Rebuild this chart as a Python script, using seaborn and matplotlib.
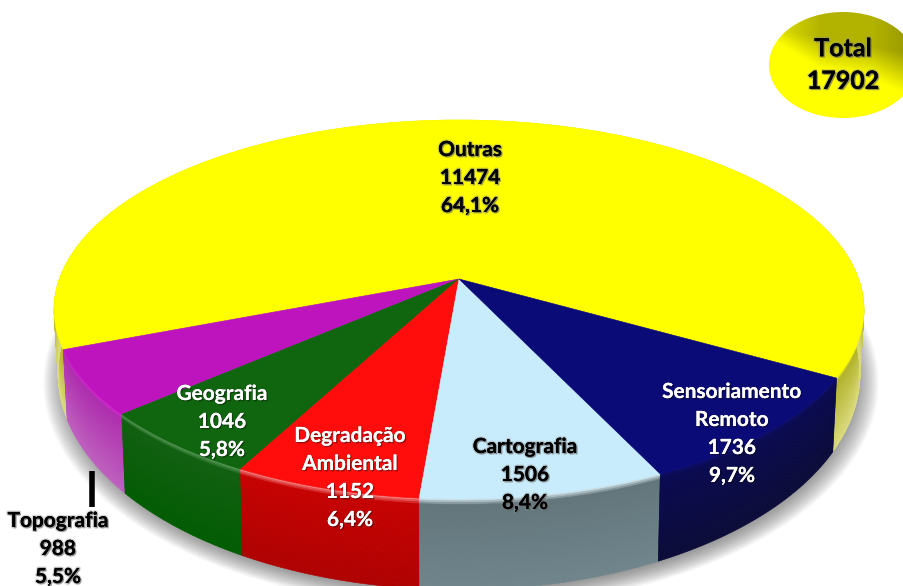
import numpy as np
import matplotlib
matplotlib.use("Agg")
import matplotlib.pyplot as plt
import matplotlib.patheffects as pe
from matplotlib.patches import Ellipse
import seaborn as sns

categories = ["Outras", "Topografia", "Geografia", "Degradação\nAmbiental", "Cartografia", "Sensoriamento\nRemoto"]
values = [11474, 988, 1046, 1152, 1506, 1736]
percents = ["64,1%", "5,5%", "5,8%", "6,4%", "8,4%", "9,7%"]
total = 17902

top_colors = ["#FFFF00", "#BE14BE", "#0F660F", "#FF0D0D", "#C8ECFB", "#0B0B78"]
# side wall colours: highlight at the edge, just under it, bottom of the wall
side_colors = [
    ["#F0F020", "#B4B42C", "#DCDC80"],
    ["#E020E0", "#B02CB0", "#C060C0"],
    ["#5FA05F", "#0F5F0F", "#005C00"],
    ["#FF9090", "#C80000", "#B00000"],
    ["#DDEEF4", "#62767C", "#70868C"],
    ["#0C0C68", "#080850", "#0A0A38"],
]
text_colors = ["black", "black", "white", "white", "black", "white"]
label_pos = [(470, 178), (58, 549), (222, 422), (350, 478), (525, 475), (732, 434)]

# view of the pie disc, in pixels
cx, cy = 459, 279
a, b, c = 399.7, 184.6, 0.161


def project(theta, u=0.0, k=1.0):
    # u: 0 on the top rim, 1 on the bottom rim of the wall
    x = k * np.cos(np.radians(theta))
    y = k * np.sin(np.radians(theta))
    px = a * x / (1 + c * y)
    py = -b * y / (1 + c * y)
    return cx + px * (1 - 0.01 * u), cy + py * (1 + 0.14 * u) + 60 * u


sns.set_theme(style="white")
plt.rcParams["font.family"] = ["Lato", "DejaVu Sans"]
plt.rcParams["font.weight"] = "bold"

fig = plt.figure(figsize=(9.04, 5.86), dpi=100)
ax = fig.add_axes([0, 0, 1, 1])

wedges, _ = ax.pie(values, startangle=-29.6, counterclock=True)
angles = [(w.theta1, w.theta2) for w in wedges]
for w in wedges:
    w.remove()
ax.set_aspect("auto")
ax.set_xlim(0, 904)
ax.set_ylim(586, 0)
ax.axis("off")

# soft shadow under the pie
t = np.linspace(0, 360, 361)
for k in np.linspace(1.04, 0.98, 16):
    sx, sy = project(t, 1.0, k)
    ax.fill(sx + 2, sy + 6, color="#505050", alpha=0.05, lw=0, zorder=1)

# side wall, stacked in thin bands
bands = 50
edges = np.linspace(0, 1, bands + 1)
for (t1, t2), stops in zip(angles, side_colors):
    arc = np.linspace(t1, t2, max(int(t2 - t1) * 2, 20))
    rgb = np.array([matplotlib.colors.to_rgb(s) for s in stops])
    for i in range(bands):
        u0, u1 = edges[i], edges[i + 1]
        um = (u0 + u1) / 2
        if um < 0.07:
            col = rgb[0] + (rgb[1] - rgb[0]) * um / 0.07
        else:
            col = rgb[1] + (rgb[2] - rgb[1]) * (um - 0.07) / 0.93
        x0, y0 = project(arc, u0)
        x1, y1 = project(arc[::-1], u1)
        ax.fill(np.r_[x0, x1], np.r_[y0, y1], color=col, lw=0.4, zorder=2)

# top face
for (t1, t2), col in zip(angles, sns.color_palette(top_colors)):
    arc = np.linspace(t1, t2, max(int(t2 - t1) * 2, 20))
    x, y = project(arc)
    ax.fill(np.r_[cx, x], np.r_[cy, y], color=col, lw=0.4, zorder=3)

# leader for the label outside the pie
ax.plot([92, 92], [471, 507], color="black", lw=4, solid_capstyle="butt", zorder=4)


def label(x, y, s, color, size):
    if color == "white":
        fx = [pe.withSimplePatchShadow(offset=(1, -1), shadow_rgbFace="#000000", alpha=0.35),
              pe.withStroke(linewidth=1.2, foreground="#30303030")]
    else:
        fx = [pe.withStroke(linewidth=2.0, foreground="#90909060"),
              pe.withSimplePatchShadow(offset=(1, -1), shadow_rgbFace="#505050", alpha=0.45)]
    ax.text(x, y, s, color=color, fontsize=size, fontweight="bold", ha="center", va="center",
            linespacing=1.5, path_effects=fx, zorder=6)


for i, cat in enumerate(categories):
    x, y = label_pos[i]
    label(x, y, f"{cat}\n{values[i]}\n{percents[i]}", text_colors[i], 15)

# total badge
gx, gy = np.meshgrid(np.linspace(-1, 1, 200), np.linspace(-1, 1, 200))
shade = 0.7 + 0.5 * np.clip(gy + 0.45 - 0.25 * gx, 0, 1) + 0.3 * np.clip(-gx - 0.3, 0, 1) - 0.2 * np.clip(gx - 0.4, 0, 1)
shade = np.clip(shade, 0, 1)
badge = np.dstack([shade, shade, np.zeros_like(shade)])
im = ax.imshow(badge, extent=(769, 917, 118, 12), aspect="auto", zorder=5)
im.set_clip_path(Ellipse((843, 65), 148, 106, transform=ax.transData))
ax.set_xlim(0, 904)
ax.set_ylim(586, 0)
label(843, 65, f"Total\n{total}", "black", 18)

fig.savefig("out.png", dpi=100, facecolor="white")
